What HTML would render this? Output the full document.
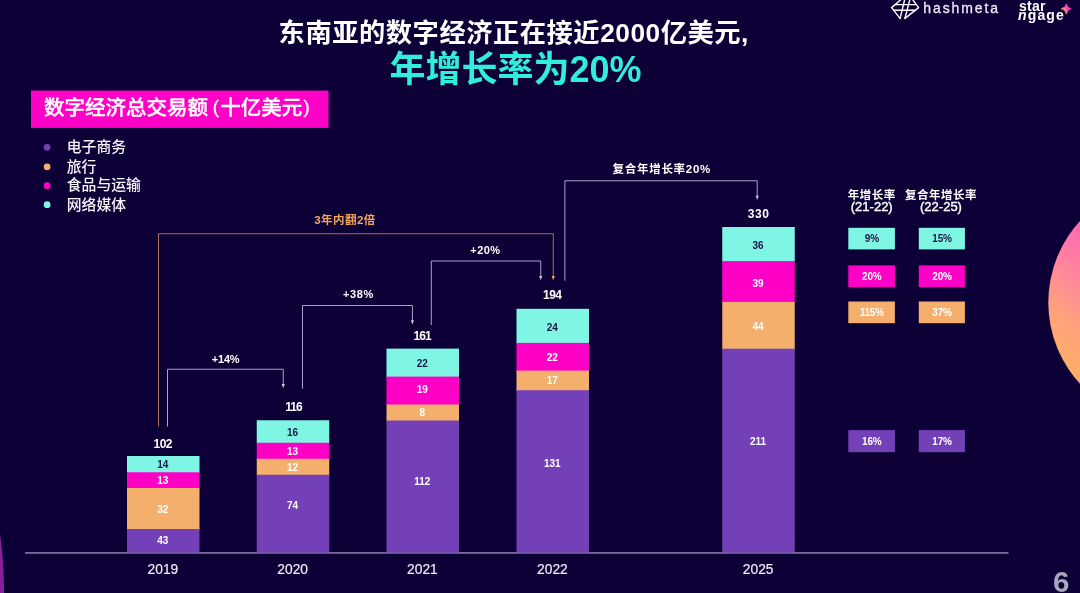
<!DOCTYPE html>
<html lang="zh-CN">
<head>
<meta charset="utf-8">
<title>东南亚的数字经济</title>
<style>
html,body{margin:0;padding:0;}
body{width:1080px;height:593px;overflow:hidden;background:#0d0036;font-family:"Liberation Sans","Noto Sans CJK SC",sans-serif;}
#slide{position:relative;width:1080px;height:593px;overflow:hidden;background:#0d0036;color:#fff;}
#slide div{position:absolute;white-space:nowrap;}
.n{font-weight:bold;font-size:10px;line-height:12px;height:12px;width:40px;text-align:center;}
.tot{font-weight:bold;font-size:12px;line-height:12px;width:60px;text-align:center;}
.yr{font-size:13.8px;line-height:14px;width:60px;text-align:center;color:#eeebf6;transform:scaleY(1.08);-webkit-text-stroke:0.2px #eeebf6;}
.pct{font-weight:bold;font-size:11px;line-height:12px;width:60px;text-align:center;}
.b{font-weight:bold;font-size:10px;line-height:12px;height:12px;width:47px;text-align:center;letter-spacing:-0.2px;}
.leg{font-size:14.8px;line-height:16px;left:66.8px;color:#f6f4fb;font-weight:500;}
.hd{font-weight:bold;font-size:11.5px;line-height:14px;text-align:center;width:90px;letter-spacing:0.5px;}
.sub{font-weight:normal;font-size:13px;letter-spacing:0;position:relative;top:-2px;-webkit-text-stroke:0.4px #fff;}
svg{position:absolute;left:0;top:0;}
</style>
</head>
<body>
<div id="slide">
<svg width="1080" height="593" viewBox="0 0 1080 593">
<defs><linearGradient id="cg" gradientUnits="userSpaceOnUse" x1="1080" y1="221" x2="1003.2" y2="323.4"><stop offset="0" stop-color="#ff68b4"/><stop offset="0.25" stop-color="#ff7ca4"/><stop offset="0.5" stop-color="#ff9290"/><stop offset="0.68" stop-color="#ffa27c"/><stop offset="0.9" stop-color="#ffaa6e"/><stop offset="1" stop-color="#ffad6a"/></linearGradient><linearGradient id="sg" x1="0" y1="0.8" x2="1" y2="0.2"><stop offset="0" stop-color="#ffa052"/><stop offset="0.3" stop-color="#ff9a58"/><stop offset="0.6" stop-color="#ff3ccf"/><stop offset="1" stop-color="#f040c8"/></linearGradient></defs>
<circle cx="1168.7" cy="302.4" r="120.4" fill="url(#cg)"/>
<circle cx="-358" cy="588" r="362" fill="#86209a"/>
<rect x="31" y="90.6" width="297.5" height="37.3" fill="#ff00c6"/>
<circle cx="47.1" cy="147.30" r="3.4" fill="#7340b7"/>
<circle cx="47.1" cy="166.80" r="3.4" fill="#f4af6d"/>
<circle cx="47.1" cy="185.70" r="3.4" fill="#ff00c6"/>
<circle cx="47.1" cy="204.70" r="3.4" fill="#7ff6e3"/>
<rect x="25" y="552.1" width="983.5" height="1.6" fill="#837ba6"/>
<rect x="127.00" y="456.00" width="72.50" height="17.25" fill="#7ff6e3"/>
<rect x="127.00" y="472.25" width="72.50" height="16.75" fill="#ff00c6"/>
<rect x="127.00" y="488.00" width="72.50" height="42.00" fill="#f4af6d"/>
<rect x="127.00" y="529.00" width="72.50" height="23.50" fill="#7340b7"/>
<rect x="256.75" y="420.25" width="72.50" height="23.50" fill="#7ff6e3"/>
<rect x="256.75" y="442.75" width="72.50" height="17.00" fill="#ff00c6"/>
<rect x="256.75" y="458.75" width="72.50" height="17.00" fill="#f4af6d"/>
<rect x="256.75" y="474.75" width="72.50" height="77.75" fill="#7340b7"/>
<rect x="386.50" y="348.60" width="72.50" height="29.00" fill="#7ff6e3"/>
<rect x="386.50" y="376.60" width="72.50" height="28.90" fill="#ff00c6"/>
<rect x="386.50" y="404.50" width="72.50" height="17.00" fill="#f4af6d"/>
<rect x="386.50" y="420.50" width="72.50" height="132.00" fill="#7340b7"/>
<rect x="516.50" y="308.80" width="72.50" height="35.10" fill="#7ff6e3"/>
<rect x="516.50" y="342.90" width="72.50" height="28.70" fill="#ff00c6"/>
<rect x="516.50" y="370.60" width="72.50" height="20.60" fill="#f4af6d"/>
<rect x="516.50" y="390.20" width="72.50" height="162.30" fill="#7340b7"/>
<rect x="722.25" y="227.00" width="72.50" height="35.10" fill="#7ff6e3"/>
<rect x="722.25" y="261.10" width="72.50" height="41.80" fill="#ff00c6"/>
<rect x="722.25" y="301.90" width="72.50" height="47.80" fill="#f4af6d"/>
<rect x="722.25" y="348.70" width="72.50" height="203.80" fill="#7340b7"/>
<rect x="848.30" y="227.80" width="46.60" height="21.60" fill="#7ff6e3"/>
<rect x="918.80" y="227.80" width="46.10" height="21.60" fill="#7ff6e3"/>
<rect x="848.30" y="265.40" width="46.60" height="21.80" fill="#ff00c6"/>
<rect x="918.80" y="265.40" width="46.10" height="21.80" fill="#ff00c6"/>
<rect x="848.30" y="301.50" width="46.60" height="21.70" fill="#f4af6d"/>
<rect x="918.80" y="301.50" width="46.10" height="21.70" fill="#f4af6d"/>
<rect x="848.30" y="430.10" width="46.60" height="22.05" fill="#7340b7"/>
<rect x="918.80" y="430.10" width="46.10" height="22.05" fill="#7340b7"/>
<path d="M167.50 426.50 V369.25 H283.25 V385.25" stroke="#a9a2c8" stroke-width="1" fill="none"/>
<path d="M283.25 388.25 l-1.6 -4.3 h3.2 z" fill="#c9c4dc"/>
<path d="M302.50 388.75 V305.50 H412.40 V321.60" stroke="#a9a2c8" stroke-width="1" fill="none"/>
<path d="M412.40 324.60 l-1.6 -4.3 h3.2 z" fill="#c9c4dc"/>
<path d="M431.30 325.00 V261.00 H540.75 V277.25" stroke="#a9a2c8" stroke-width="1" fill="none"/>
<path d="M540.75 280.25 l-1.6 -4.3 h3.2 z" fill="#c9c4dc"/>
<path d="M564.90 280.70 V180.75 H757.20 V197.00" stroke="#a9a2c8" stroke-width="1" fill="none"/>
<path d="M757.20 200.00 l-1.6 -4.3 h3.2 z" fill="#c9c4dc"/>
<path d="M158.50 426.50 V233.75 H553.25 V277.25" stroke="#ab6e59" stroke-width="1" fill="none"/>
<path d="M553.25 280.25 l-1.6 -4.3 h3.2 z" fill="#f5a85e"/>
<g stroke="#ffffff" stroke-width="1.4" stroke-linejoin="round" stroke-linecap="round" fill="none">
<path d="M901.6 -1 L891.6 7.6 L900 18.4 M912.2 -1 L918.6 7.6 L905 18.4"/>
<path d="M895.3 4.6 H916.2 M893.8 10.2 H915.2 M904.8 -1 L900.1 18.4 M910 -1 L904.9 18.4"/>
</g>
<path d="M1066.3 3.9 Q1066.9 8.0 1071.2 8.7 Q1066.9 9.4 1066.3 13.9 Q1065.7 9.4 1061.2 8.7 Q1065.7 8.0 1066.3 3.9 Z" fill="url(#sg)" stroke="url(#sg)" stroke-width="0.9" stroke-linejoin="round"/>
</svg>
<div style="left:0;top:15px;width:1027.5px;text-align:center;font-weight:bold;font-size:26.3px;line-height:36px;letter-spacing:0.5px;">东南亚的数字经济正在接近2000亿美元,</div>
<div style="left:0;top:45.5px;width:1031px;text-align:center;font-weight:bold;font-size:36px;line-height:48px;color:#30eedb;">年增长率为20%</div>
<div style="left:44.1px;top:93px;font-weight:500;font-size:20.5px;line-height:30px;-webkit-text-stroke:0.35px #fff;">数字经济总交易额<span style="margin:0 1.4px 0 4.7px;font-weight:normal;font-size:18.5px;position:relative;top:-1.8px;-webkit-text-stroke:0.3px #fff;">(</span>十亿美元<span style="margin-left:1.2px;font-weight:normal;font-size:18.5px;position:relative;top:-1.8px;-webkit-text-stroke:0.3px #fff;">)</span></div>
<div class="leg" style="top:139.00px;">电子商务</div>
<div class="leg" style="top:159.00px;">旅行</div>
<div class="leg" style="top:177.00px;">食品与运输</div>
<div class="leg" style="top:197.00px;">网络媒体</div>
<div class="n" style="left:142.85px;top:459.00px;color:#1a1446;">14</div>
<div class="n" style="left:142.85px;top:475.00px;color:#fff;">13</div>
<div class="n" style="left:142.85px;top:504.00px;color:#fff;">32</div>
<div class="n" style="left:142.85px;top:535.00px;color:#fff;">43</div>
<div class="tot" style="left:132.75px;top:438.00px;letter-spacing:-0.50px;">102</div>
<div class="yr" style="left:132.95px;top:562.60px;">2019</div>
<div class="n" style="left:272.60px;top:427.00px;color:#1a1446;">16</div>
<div class="n" style="left:272.60px;top:446.00px;color:#fff;">13</div>
<div class="n" style="left:272.60px;top:462.00px;color:#fff;">12</div>
<div class="n" style="left:272.60px;top:500.00px;color:#fff;">74</div>
<div class="tot" style="left:263.55px;top:401.00px;letter-spacing:-1.00px;">116</div>
<div class="yr" style="left:262.70px;top:562.60px;">2020</div>
<div class="n" style="left:402.35px;top:358.00px;color:#1a1446;">22</div>
<div class="n" style="left:402.35px;top:384.00px;color:#fff;">19</div>
<div class="n" style="left:402.35px;top:407.00px;color:#fff;">8</div>
<div class="n" style="left:402.35px;top:476.00px;color:#fff;">112</div>
<div class="tot" style="left:392.05px;top:330.00px;letter-spacing:-0.90px;">161</div>
<div class="yr" style="left:392.45px;top:562.60px;">2021</div>
<div class="n" style="left:532.35px;top:322.00px;color:#1a1446;">24</div>
<div class="n" style="left:532.35px;top:352.00px;color:#fff;">22</div>
<div class="n" style="left:532.35px;top:375.00px;color:#fff;">17</div>
<div class="n" style="left:532.35px;top:458.00px;color:#fff;">131</div>
<div class="tot" style="left:522.25px;top:289.00px;letter-spacing:-0.50px;">194</div>
<div class="yr" style="left:522.45px;top:562.60px;">2022</div>
<div class="n" style="left:738.10px;top:240.00px;color:#1a1446;">36</div>
<div class="n" style="left:738.10px;top:278.00px;color:#fff;">39</div>
<div class="n" style="left:738.10px;top:321.00px;color:#fff;">44</div>
<div class="n" style="left:738.10px;top:436.00px;color:#fff;">211</div>
<div class="tot" style="left:728.55px;top:208.00px;letter-spacing:0.60px;">330</div>
<div class="yr" style="left:728.20px;top:562.60px;">2025</div>
<div class="pct" style="left:195.65px;top:353.00px;letter-spacing:-0.20px;">+14%</div>
<div class="pct" style="left:328.40px;top:288.00px;letter-spacing:0.60px;">+38%</div>
<div class="pct" style="left:455.48px;top:244.00px;letter-spacing:0.45px;">+20%</div>
<div style="left:314.25px;top:212px;font-weight:bold;font-size:11.5px;line-height:16px;letter-spacing:0.45px;color:#f4a55c;">3年内翻2倍</div>
<div style="left:612.6px;top:161px;font-weight:bold;font-size:11.5px;line-height:17px;letter-spacing:0.7px;">复合年增长率20%</div>
<div class="hd" style="left:826.75px;top:187.5px;">年增长率<br><span class="sub">(21-22)</span></div>
<div class="hd" style="left:896px;top:187.5px;">复合年增长率<br><span class="sub">(22-25)</span></div>
<div class="b" style="left:848.30px;top:233px;color:#1a1446;">9%</div>
<div class="b" style="left:918.55px;top:233px;color:#1a1446;">15%</div>
<div class="b" style="left:848.30px;top:271px;color:#fff;">20%</div>
<div class="b" style="left:918.55px;top:271px;color:#fff;">20%</div>
<div class="b" style="left:848.30px;top:307px;color:#fff;">115%</div>
<div class="b" style="left:918.55px;top:307px;color:#fff;">37%</div>
<div class="b" style="left:848.30px;top:436px;color:#fff;">16%</div>
<div class="b" style="left:918.55px;top:436px;color:#fff;">17%</div>
<div style="left:1041.3px;top:566px;width:40px;text-align:center;font-weight:bold;font-size:29.5px;line-height:32px;color:#a9a5be;">6</div>
<div style="left:923.3px;top:-1px;font-size:14px;line-height:18px;letter-spacing:1.9px;color:#ece9f6;-webkit-text-stroke:0.3px #ece9f6;">hashmeta</div>
<div style="left:1019px;top:-2px;font-weight:bold;font-size:14px;line-height:16px;letter-spacing:0.25px;color:#fff;">star</div>
<div style="left:1018px;top:7.3px;font-weight:bold;font-size:14px;line-height:16px;letter-spacing:1.15px;color:#fff;"><i>n</i>gage</div>
</div>
</body>
</html>
